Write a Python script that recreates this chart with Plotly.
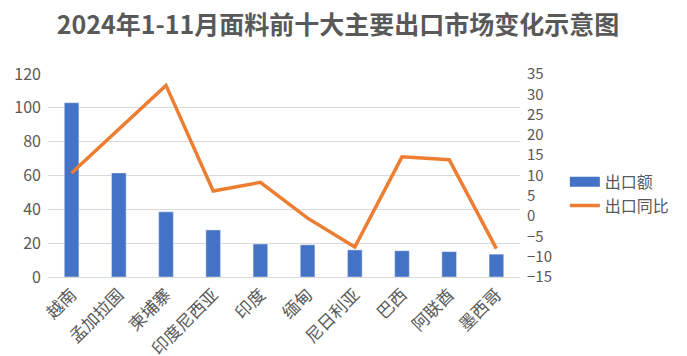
import plotly.graph_objects as go

categories = ["越南", "孟加拉国", "柬埔寨", "印度尼西亚", "印度", "缅甸", "尼日利亚", "巴西", "阿联酋", "墨西哥"]
export_value = [103, 61.5, 38.5, 27.8, 19.5, 19, 16, 15.5, 15, 13.5]
export_yoy = [10.6, 21.5, 32.2, 6.2, 8.3, -0.5, -7.6, 14.6, 13.9, -8.0]

FONT = "Noto Sans CJK SC, Microsoft YaHei, sans-serif"
GRAY = "#595959"
BLUE = "#4472C4"
ORANGE = "#ED7D31"

fig = go.Figure()
fig.add_trace(go.Bar(
    x=categories, y=export_value, name="出口额",
    marker=dict(color=BLUE), width=0.31, yaxis="y", showlegend=False))
# legend entry for bars drawn as a wide block like the original
fig.add_trace(go.Scatter(
    x=[None], y=[None], name="出口额", mode="lines",
    line=dict(color=BLUE, width=10), yaxis="y", showlegend=True))
fig.add_trace(go.Scatter(
    x=categories, y=export_yoy, name="出口同比", mode="lines",
    line=dict(color=ORANGE, width=3.5), yaxis="y2"))

fig.update_layout(
    width=679, height=348,
    margin=dict(l=40, r=151, t=66, b=79),
    paper_bgcolor="white", plot_bgcolor="white",
    font=dict(family=FONT, color=GRAY, size=15),
    title=dict(text="<b>2024年1-11月面料前十大主要出口市场变化示意图</b>",
               x=0.486, xanchor="center", y=0.95, yanchor="middle",
               font=dict(size=25, color=GRAY, family=FONT)),
    xaxis=dict(tickangle=-45, showgrid=False, showline=True, linecolor="#D9D9D9",
               ticks="", tickfont=dict(size=17, color=GRAY), automargin=False),
    yaxis=dict(range=[0, 120], dtick=20, showgrid=True, gridcolor="#D9D9D9",
               zeroline=False, ticks="", tickfont=dict(size=16, color=GRAY),
               ticklabelstandoff=6, automargin=False),
    yaxis2=dict(range=[-15, 35], dtick=5, overlaying="y", side="right",
                showgrid=False, zeroline=False, ticks="",
                tickfont=dict(size=15, color=GRAY), ticklabelstandoff=6,
                automargin=False),
    legend=dict(x=1.095, xanchor="left", y=0.41, yanchor="middle",
                font=dict(size=16, color=GRAY), bgcolor="rgba(0,0,0,0)",
                tracegroupgap=2),
    showlegend=True,
)

fig.write_html("out.html")
